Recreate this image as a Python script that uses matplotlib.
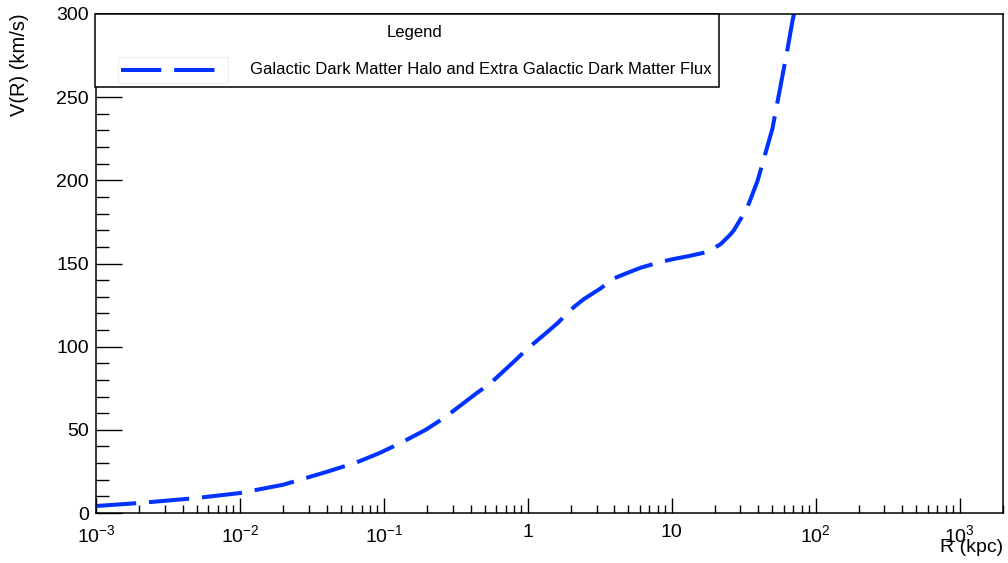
import numpy as np
import matplotlib
matplotlib.use("Agg")
import matplotlib.pyplot as plt
from matplotlib.patches import Rectangle
from matplotlib.lines import Line2D
from matplotlib.ticker import LogLocator, MultipleLocator

plt.rcParams['font.family'] = ['Liberation Sans', 'DejaVu Sans']
plt.rcParams['mathtext.fontset'] = 'custom'
plt.rcParams['mathtext.rm'] = 'Liberation Sans'
plt.rcParams['mathtext.it'] = 'Liberation Sans'

radius_kpc = [1e-3, 2e-3, 5e-3, 1e-2, 2e-2, 4.1e-2, 0.065, 0.093, 0.13, 0.195, 0.23, 0.27,
              0.44, 0.55, 0.8, 1.0, 1.29, 1.6, 2.1, 2.45, 3.2, 3.95, 4.8, 6.1,
              8.4, 10.3, 13.2, 17.8, 21.9, 25.7, 27.0, 31.0, 33.6, 39.4, 46.0,
              50.0, 55.6, 63.4, 69.0, 71.0]
velocity_kms = [4.2, 6.0, 9.0, 12.0, 17.0, 25.0, 30.5, 36.0, 42.0, 50.0, 54.0, 58.0,
                72.0, 78.0, 91.0, 99.0, 107.0, 114.0, 124.0, 128.6, 135.0, 141.0, 144.0, 147.5,
                151.0, 152.7, 154.5, 157.0, 161.7, 167.7, 170.0, 178.6, 184.0, 199.6, 220.0,
                231.0, 252.0, 278.0, 296.0, 301.0]
legend_label = "Galactic Dark Matter Halo and Extra Galactic Dark Matter Flux"
curve_color = '#0033ff'

W, H = 1008, 563
fig = plt.figure(figsize=(W / 100, H / 100), dpi=100)
ax = fig.add_axes([96 / W, (H - 513) / H, (1003 - 96) / W, (513 - 14) / H])

ax.plot(radius_kpc, velocity_kms, color=curve_color, lw=2.9,
        ls=(0, (10, 3.2)), solid_capstyle='butt', dash_capstyle='butt',
        solid_joinstyle='round', dash_joinstyle='round')

ax.set_xscale('log')
ax.set_xlim(1e-3, 2000)
ax.set_ylim(0, 300)

ax.xaxis.set_minor_locator(LogLocator(base=10, subs=np.arange(2, 10), numticks=20))
ax.set_xticks([1e-3, 1e-2, 1e-1, 1, 10, 100, 1000])
ax.set_xticklabels([r'$10^{-3}$', r'$10^{-2}$', r'$10^{-1}$', '1', '10',
                    r'$10^{2}$', r'$10^{3}$'])
ax.yaxis.set_major_locator(MultipleLocator(50))
ax.yaxis.set_minor_locator(MultipleLocator(10))

ax.tick_params(axis='y', which='major', direction='in', length=18.7, width=1,
               labelsize=14, pad=5, right=False)
ax.tick_params(axis='y', which='minor', direction='in', length=9.4, width=1, right=False)
ax.tick_params(axis='x', which='major', direction='in', length=10.8, width=1,
               labelsize=14, pad=8, top=False)
ax.tick_params(axis='x', which='minor', direction='in', length=5.8, width=1, top=False)
for sp in ax.spines.values():
    sp.set_linewidth(1.1)

# axis titles, ROOT style
fig.text(1003 / W, 1 - 548 / H, 'R (kpc)', ha='right', va='center', fontsize=14)
fig.text(20 / W, 1 - 13 / H, 'V(R) (km/s)', ha='center', va='top',
         rotation=90, fontsize=14.5)

# legend box
x0, x1, y0, y1 = 95, 719, 14, 87
fig.patches.append(Rectangle((x0 / W, 1 - y1 / H), (x1 - x0) / W, (y1 - y0) / H,
                             transform=fig.transFigure, fc='white', ec='black',
                             lw=1.1, zorder=5))
fig.text(415 / W, 1 - 32 / H, 'Legend', ha='center', va='center', fontsize=12, zorder=6)
fig.patches.append(Rectangle((118 / W, 1 - 83 / H), 110 / W, 26 / H,
                             transform=fig.transFigure, fc='white', ec='#eeeeee',
                             lw=0.8, zorder=6))
fig.lines.append(Line2D([121 / W, 226 / W], [1 - 70 / H, 1 - 70 / H],
                        transform=fig.transFigure, color=curve_color, lw=2.9,
                        ls=(0, (10, 3.2)), dash_capstyle='butt', zorder=7))
fig.text(250 / W, 1 - 70 / H, legend_label, ha='left', va='center', fontsize=12, zorder=6)

fig.savefig('out.png', dpi=100)
